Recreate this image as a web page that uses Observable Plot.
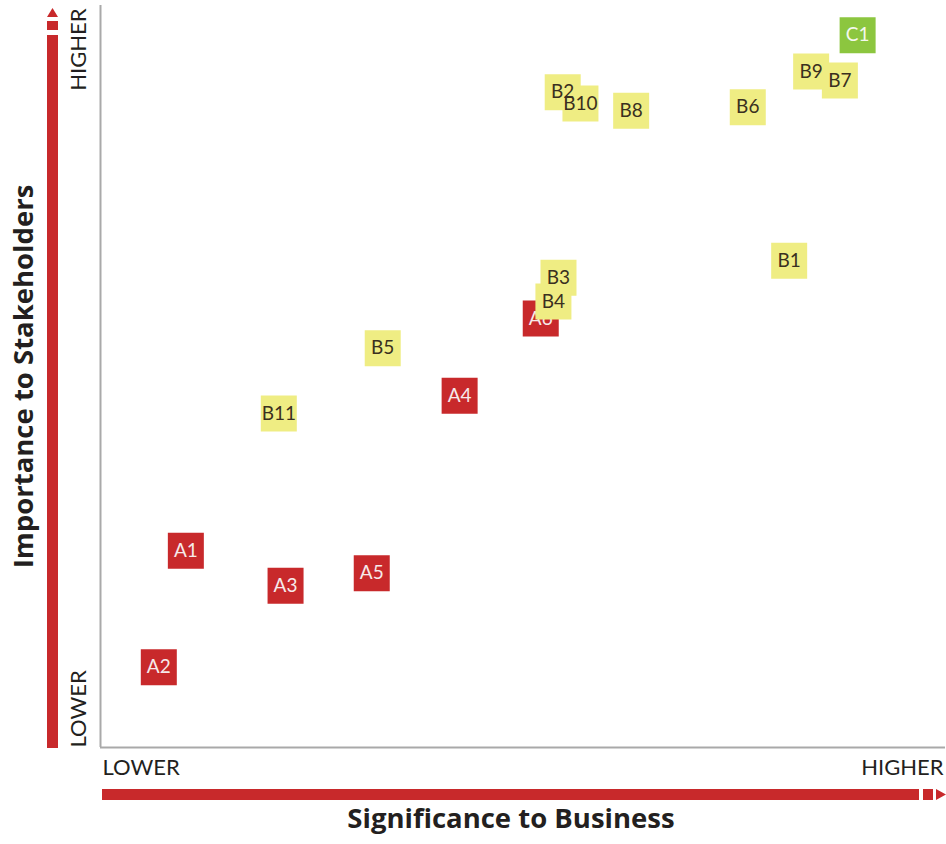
<!DOCTYPE html>
<html><head><meta charset="utf-8">
<script src="https://cdn.jsdelivr.net/npm/d3@7"></script>
<script src="https://cdn.jsdelivr.net/npm/@observablehq/plot@0.6"></script>
<style>body{margin:0;background:#fff;font-family:Lato,sans-serif}</style>
</head><body><div id="chart"></div>
<script>
// Issues drawn in order (later ones sit on top)
const labels = ["A1","A2","A3","A4","A5","A6","B1","B2","B3","B4","B5","B6","B7","B8","B9","B10","B11","C1"];
const significance = [10.1, 6.9, 21.9, 42.5, 32.1, 52.1, 81.5, 54.7, 54.2, 53.6, 33.4, 76.6, 87.5, 62.8, 84.1, 56.8, 21.1, 89.6];
const importance   = [26.5, 10.8, 21.8, 47.4, 23.5, 57.8, 65.6, 88.3, 63.3, 60.1, 53.8, 86.3, 89.9, 85.8, 91.1, 86.8, 45.0, 96.0];
const groupNames = ["A","B","C"];
const groupFill = ["#c8292b","#efed83","#8cc63f"];
const groupText = ["#f6eaea","#3a3020","#f4f8ee"];
const xTickLabels = ["LOWER","HIGHER"];
const yTickLabels = ["LOWER","HIGHER"];
const xTitle = "Significance to Business";
const yTitle = "Importance to Stakeholders";

const rows = labels.map((l, i) => ({label: l, x: significance[i], y: importance[i], g: groupNames.indexOf(l[0])}));

const pointMarks = groupNames.flatMap((name, g) => {
  const sub = rows.filter(d => d.g === g);
  return [
    Plot.dot(sub, {x: "x", y: "y", symbol: "square", r: 20.31, fill: groupFill[g], stroke: "none"}),
    Plot.text(sub, {x: "x", y: "y", text: "label", fill: groupText[g], fontSize: 19, fontFamily: "Lato, sans-serif"})
  ];
});

const axisColor = "#231f20";
const titleFont = "'Open Sans', sans-serif";
const plot = Plot.plot({
  width: 946, height: 844,
  marginLeft: 100, marginRight: 1, marginTop: 5, marginBottom: 97,
  x: {domain: [0, 100]},
  y: {domain: [0, 100]},
  style: {fontFamily: "Lato, sans-serif", background: "#fff", overflow: "visible"},
  marks: [
    Plot.axisX({ticks: [0], tickFormat: () => xTickLabels[0], tickSize: 0, tickPadding: 12, textAnchor: "start", fontSize: 22, fill: axisColor, label: null, dx: 2}),
    Plot.axisX({ticks: [100], tickFormat: () => xTickLabels[1], tickSize: 0, tickPadding: 12, textAnchor: "end", fontSize: 22, fill: axisColor, label: null, dx: -2}),
    Plot.axisY({ticks: [0], tickFormat: () => yTickLabels[0], tickSize: 0, tickPadding: 22, rotate: -90, textAnchor: "start", fontSize: 22, fill: axisColor, label: null}),
    Plot.axisY({ticks: [100], tickFormat: () => yTickLabels[1], tickSize: 0, tickPadding: 22, rotate: -90, textAnchor: "end", fontSize: 22, fill: axisColor, label: null, dy: 3}),
    Plot.ruleX([0], {stroke: "#a9a9a9", strokeWidth: 2}),
    Plot.ruleY([0], {stroke: "#a9a9a9", strokeWidth: 2}),
    Plot.text([xTitle], {frameAnchor: "bottom", textAnchor: "middle", dy: 80, dx: -12, fontSize: 27.5, fontWeight: "bold", fontFamily: titleFont, fill: axisColor}),
    Plot.text([yTitle], {frameAnchor: "left", textAnchor: "middle", rotate: -90, dx: -76, fontSize: 27.5, fontWeight: "bold", fontFamily: titleFont, fill: axisColor}),
    ...pointMarks
  ]
});

// decorative red arrows
const svg = d3.select(plot);
const red = "#c8292b";
svg.append("rect").attr("x", 47).attr("y", 35).attr("width", 11).attr("height", 713).attr("fill", red);
svg.append("rect").attr("x", 47).attr("y", 21).attr("width", 11).attr("height", 9).attr("fill", red);
svg.append("polygon").attr("points", "47,17 58,17 52.5,8").attr("fill", red);
svg.append("rect").attr("x", 102).attr("y", 789).attr("width", 817).attr("height", 11).attr("fill", red);
svg.append("rect").attr("x", 923).attr("y", 789).attr("width", 10).attr("height", 11).attr("fill", red);
svg.append("polygon").attr("points", "936,789 936,800 946,794.5").attr("fill", red);

document.getElementById("chart").append(plot);
</script>
</body></html>
